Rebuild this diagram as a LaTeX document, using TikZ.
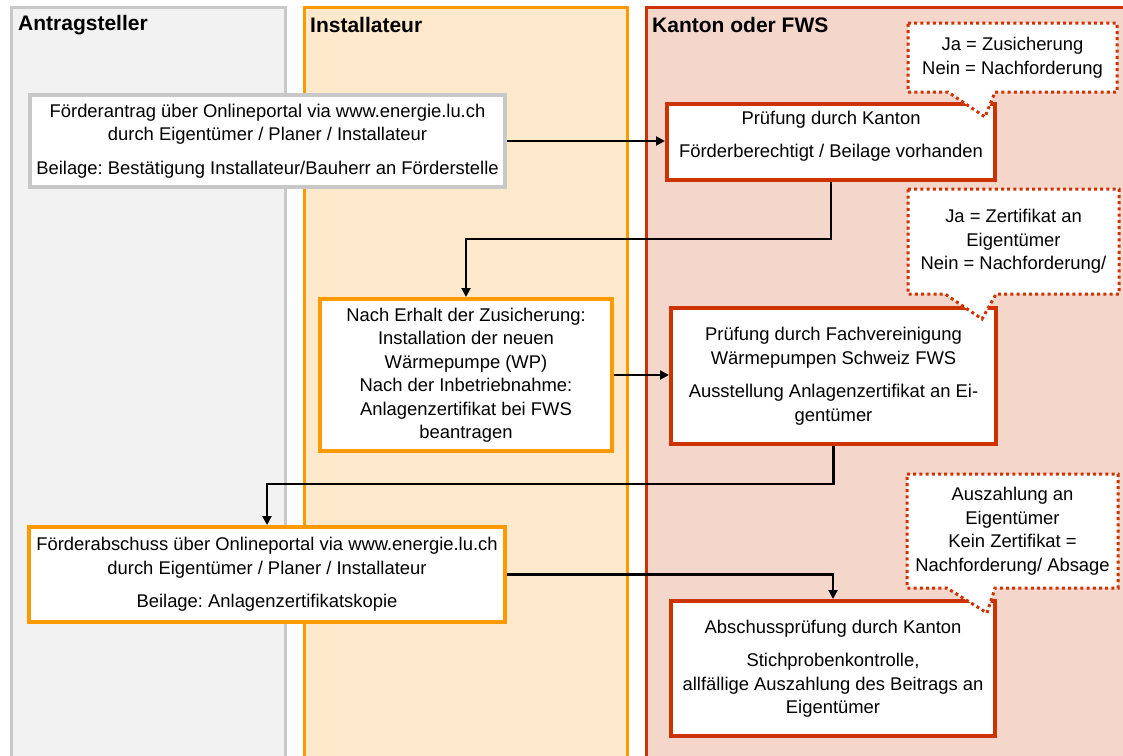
\documentclass[tikz,border=0pt]{standalone}
\usepackage{fontspec}
\setmainfont{Liberation Sans}
\usetikzlibrary{arrows.meta,calc}
\frenchspacing
\definecolor{grayfill}{RGB}{242,242,242}
\definecolor{grayline}{RGB}{200,200,200}
\definecolor{orfill}{RGB}{255,233,204}
\definecolor{orline}{RGB}{255,153,0}
\definecolor{rdfill}{RGB}{244,214,203}
\definecolor{rdline}{RGB}{204,51,0}
\tikzset{
  lane/.style={line width=3pt},
  lanetitle/.style={anchor=west,font=\fontsize{21}{24}\selectfont\bfseries,inner sep=0pt},
  box/.style={rectangle,draw,line width=4pt,fill=white,inner sep=0pt,align=center,
              font=\fontsize{18.4}{23.5}\selectfont},
  graybox/.style={box,draw=grayline},
  orbox/.style={box,draw=orline},
  rdbox/.style={box,draw=rdline},
  callout/.style={draw=rdline,fill=white,line width=3pt,dash pattern=on 3pt off 3.2pt},
  callouttext/.style={align=center,inner sep=0pt,font=\fontsize{18.4}{23.5}\selectfont},
  arr/.style={line width=2.7pt,-{Triangle[length=9pt,width=9pt]}},
}
\begin{document}
\begin{tikzpicture}[x=1pt,y=-1pt]
\useasboundingbox (0,0) rectangle (1123,755);
\clip (0,0) rectangle (1123,755);
% lanes
\draw[lane,draw=grayline,fill=grayfill] (11,780) -- (11,7) -- (285,7) -- (285,780);
\draw[lane,draw=orline,fill=orfill] (304,780) -- (304,7) -- (627,7) -- (627,780);
\draw[lane,draw=rdline,fill=rdfill] (646,780) -- (646,7) -- (1140,7) -- (1140,780);
\node[lanetitle] (t1) at (18,25) {Antragsteller};
\node[lanetitle] (t2) at (310,25) {Installateur};
\node[lanetitle] (t3) at (652,25) {Kanton oder FWS};
% boxes
\node[graybox,minimum width=475pt,minimum height=92pt] (b1) at (267.5,141)
  {Förderantrag über Onlineportal via www.energie.lu.ch\\durch Eigentümer / Planer / Installateur\\[10pt]Beilage: Bestätigung Installateur/Bauherr an Förderstelle};
\node[rdbox,minimum width=328pt,minimum height=76pt] (b2) at (831,142)
  {Prüfung durch Kanton\\[10pt]Förderberechtigt / Beilage vorhanden\\[-8pt]\mbox{}};
\node[orbox,minimum width=292pt,minimum height=152pt] (b3) at (466,375)
  {Nach Erhalt der Zusicherung:\\Installation der neuen\\Wärmepumpe (WP)\\Nach der Inbetriebnahme:\\Anlagenzertifikat bei FWS\\beantragen};
\node[rdbox,minimum width=325pt,minimum height=136pt] (b4) at (833.5,376)
  {Prüfung durch Fachvereinigung\\Wärmepumpen Schweiz FWS\\[10pt]Ausstellung Anlagenzertifikat an Ei-\\gentümer};
\node[orbox,minimum width=476pt,minimum height=95pt] (b5) at (267,574.5)
  {Förderabschuss über Onlineportal via www.energie.lu.ch\\durch Eigentümer / Planer / Installateur\\[10pt]Beilage: Anlagenzertifikatskopie};
\node[rdbox,minimum width=324pt,minimum height=135pt] (b6) at (833,668.5)
  {Abschussprüfung durch Kanton\\[10pt]Stichprobenkontrolle,\\allfällige Auszahlung des Beitrags an\\Eigentümer};
% callouts
\draw[callout] (908,23) -- (1117,23) -- (1117,92) -- (995,92) -- (985,117) -- (948,92) -- (908,92) -- cycle;
\node[callouttext] (c1) at (1012.5,57.5) {Ja = Zusicherung\\Nein = Nachforderung};
\draw[callout] (908,189) -- (1119,189) -- (1119,294) -- (996,294) -- (982,319) -- (945,294) -- (908,294) -- cycle;
\node[callouttext] (c2) at (1013.5,241.5) {Ja = Zertifikat an\\Eigentümer\\Nein = Nachforderung/};
\draw[callout] (907,474) -- (1118,474) -- (1118,588) -- (995,588) -- (987,613) -- (947,588) -- (907,588) -- cycle;
\node[callouttext] (c3) at (1012.5,531) {Auszahlung an\\Eigentümer\\Kein Zertifikat =\\Nachforderung/ Absage};
% connectors
\coordinate (j1) at (0,239);
\coordinate (j2) at (0,484);
\draw[arr] (b1.east) -- (b1.east -| b2.west);
\draw[arr] (b2.south) |- (b3.north |- j1) -- (b3.north);
\draw[arr] (b3.east) -- (b3.east -| b4.west);
\draw[arr] (b4.south) |- (b5.north |- j2) -- (b5.north);
\draw[arr] (b5.east) -| (b6.north);
\end{tikzpicture}
\end{document}
